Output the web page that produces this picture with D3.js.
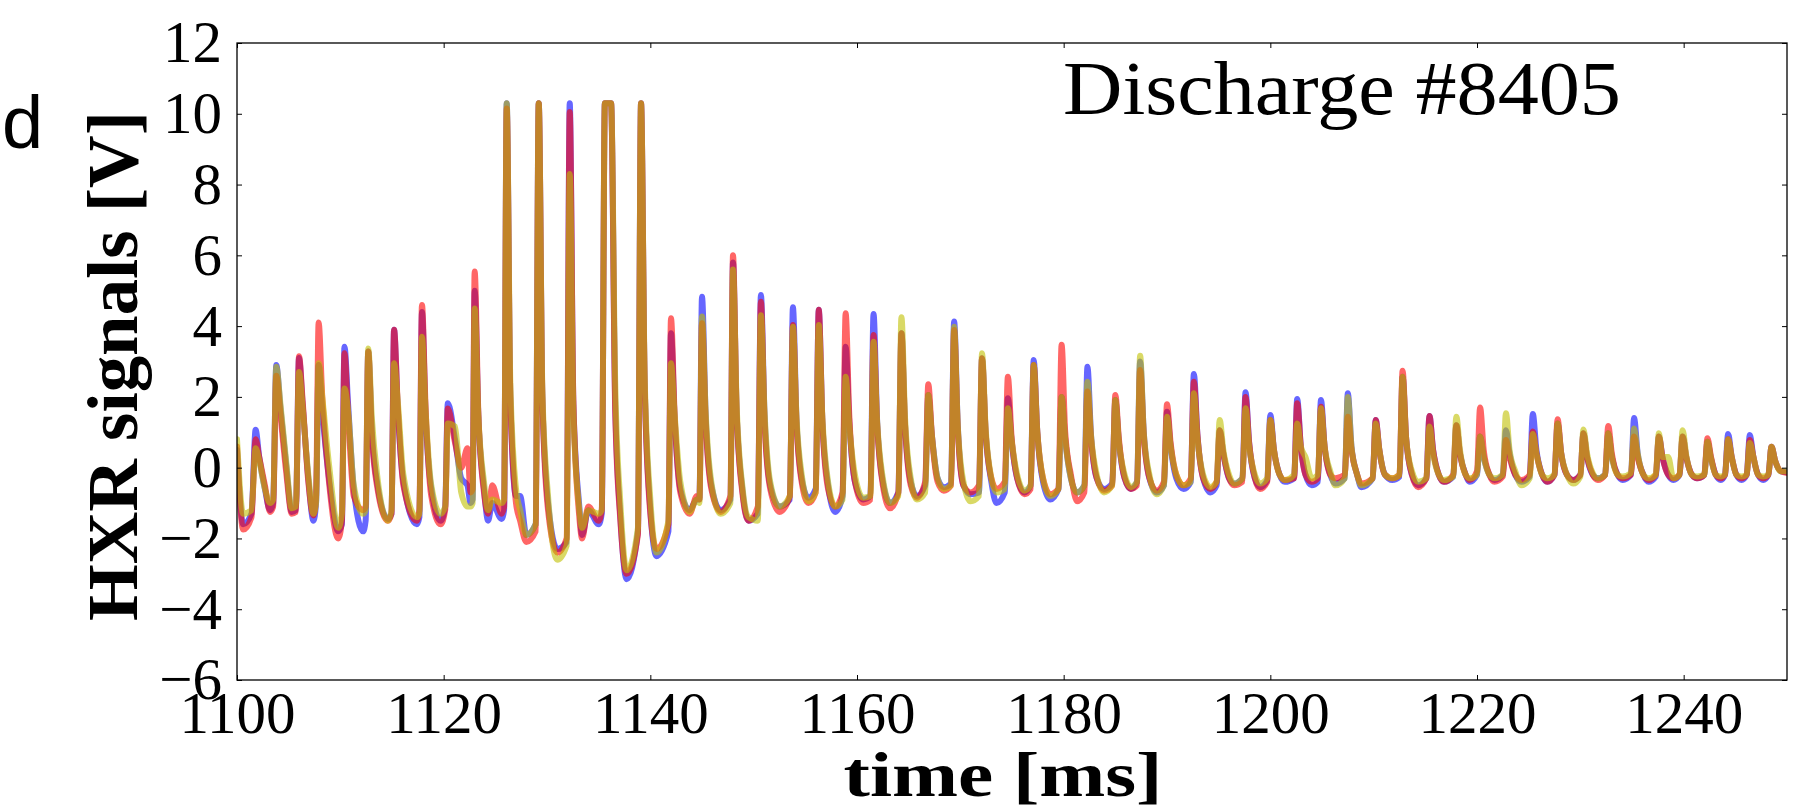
<!DOCTYPE html>
<html>
<head>
<meta charset="utf-8">
<script src="https://cdn.jsdelivr.net/npm/d3@7"></script>
<style>
  html, body { margin: 0; padding: 0; background: #ffffff; }
  svg { display: block; }
</style>
</head>
<body>
<svg id="chart" width="1800" height="810"></svg>
<script>
// ---------------- data ----------------
const xTicks = [1100, 1120, 1140, 1160, 1180, 1200, 1220, 1240];
const yTicks = [-6, -4, -2, 0, 2, 4, 6, 8, 10, 12];
const xDomain = [1100, 1250];
const yDomain = [-6, 12];
const seriesNames = ["blue", "red", "yellow"];
const seriesColors = ["#0000ff", "#ff0000", "#bfbf00"];

// shared sample times (ms)
const times = [
  1100.0, 1100.6,
  1101.4, 1101.8, 1102.15, 1102.7, 1103.2,
  1103.5, 1103.8, 1104.2, 1104.75, 1105.3,
  1105.7, 1106.0, 1106.35, 1106.9, 1107.4,
  1107.65, 1107.9, 1108.25, 1108.9, 1109.8,
  1110.15, 1110.4, 1110.75, 1111.3, 1112.2,
  1112.45, 1112.7, 1113.05, 1113.6, 1114.6,
  1114.95, 1115.2, 1115.55, 1116.1, 1117.4,
  1117.65, 1117.9, 1118.25, 1118.8, 1119.7,
  1120.15, 1120.4, 1121.1, 1121.7, 1122.3, 1122.6,
  1122.8, 1123.0, 1123.35, 1123.9, 1124.3, 1124.7, 1125.6,
  1125.85, 1126.1, 1126.45, 1127.0, 1127.4, 1128.0, 1128.9,
  1129.2, 1129.55, 1130.1, 1131.0, 1131.9,
  1132.2, 1132.55, 1133.1, 1133.4, 1134.0, 1135.0,
  1135.3, 1135.6, 1135.9, 1136.2, 1136.6, 1137.1, 1137.7, 1138.8,
  1139.1, 1139.45, 1140.0, 1140.6, 1141.75,
  1142.0, 1142.35, 1142.9, 1143.8, 1144.5,
  1144.75, 1145.0, 1145.35, 1145.9, 1146.8,
  1147.75, 1148.0, 1148.35, 1148.9, 1149.5, 1150.4,
  1150.7, 1151.05, 1151.6, 1152.5, 1153.5,
  1153.8, 1154.15, 1154.7, 1155.3, 1156.0,
  1156.3, 1156.65, 1157.2, 1157.9, 1158.6,
  1158.9, 1159.25, 1159.8, 1160.6, 1161.3,
  1161.6, 1161.95, 1162.5, 1163.2, 1164.0,
  1164.3, 1164.65, 1165.2, 1165.8, 1166.6,
  1166.9, 1167.25, 1167.8, 1168.4, 1169.1,
  1169.4, 1169.75, 1170.3, 1171.0, 1171.8,
  1172.1, 1172.45, 1173.0, 1173.5, 1174.3,
  1174.6, 1174.95, 1175.5, 1176.2, 1176.8,
  1177.1, 1177.45, 1178.0, 1178.7, 1179.5,
  1179.8, 1180.15, 1180.7, 1181.3, 1182.0,
  1182.3, 1182.65, 1183.2, 1183.9, 1184.7,
  1185.0, 1185.35, 1185.9, 1186.5, 1187.1,
  1187.4, 1187.75, 1188.3, 1189.0, 1189.7,
  1190.0, 1190.35, 1190.9, 1191.6, 1192.3,
  1192.6, 1192.95, 1193.5, 1194.2, 1194.8,
  1195.1, 1195.45, 1196.0, 1196.5, 1197.3,
  1197.6, 1197.95, 1198.5, 1199.0, 1199.7,
  1200.0, 1200.35, 1200.9, 1201.4, 1202.3,
  1202.6, 1202.95, 1203.4, 1204.0, 1204.6,
  1204.9, 1205.25, 1205.8, 1206.3, 1207.2,
  1207.5, 1207.85, 1208.4, 1208.8, 1209.9,
  1210.2, 1210.55, 1211.1, 1211.8, 1212.5,
  1212.8, 1213.15, 1213.7, 1214.3, 1215.1,
  1215.4, 1215.75, 1216.3, 1216.8, 1217.7,
  1218.0, 1218.35, 1218.9, 1219.3, 1220.0,
  1220.3, 1220.65, 1221.2, 1221.7, 1222.5,
  1222.8, 1223.15, 1223.7, 1224.3, 1225.1,
  1225.4, 1225.75, 1226.3, 1226.8, 1227.5,
  1227.8, 1228.15, 1228.7, 1229.3, 1230.0,
  1230.3, 1230.65, 1231.2, 1231.7, 1232.4,
  1232.7, 1233.05, 1233.6, 1234.1, 1234.9,
  1235.2, 1235.55, 1236.1, 1236.6, 1237.3,
  1237.6, 1237.95, 1238.5, 1239.0, 1239.6,
  1239.9, 1240.25, 1240.8, 1241.3, 1242.0,
  1242.3, 1242.65, 1243.1, 1243.6, 1244.0,
  1244.3, 1244.65, 1245.1, 1245.6, 1246.1,
  1246.4, 1246.75, 1247.2, 1247.7, 1248.2,
  1248.5, 1248.85, 1249.4, 1250.0
];

const blueValues = [
  0.5, -1.6,
  -1.3, 1.07, 0.3, -0.6, -1.2,
  -1.0, 2.9, 1.7, 0.1, -1.25,
  -1.2, 3.1, 1.8, -0.3, -1.5,
  -1.0, 2.9, 1.6, -0.3, -1.8,
  -1.6, 3.42, 1.8, -0.6, -1.8,
  -1.5, 3.28, 1.0, -0.5, -1.45,
  -1.3, 3.9, 1.7, -0.4, -1.6,
  -1.4, 4.4, 1.5, -0.6, -1.5,
  -1.1, 1.82, 0.8, -0.3, -0.5, -1.0,
  -0.9, 5.0, 1.5, -0.6, -1.5, -1.0, -1.45,
  -1.2, 10.3, 2.0, -0.8, -0.8, -1.9, -1.6,
  10.3, 2.0, -1.0, -2.3, -2.1,
  10.3, 1.8, -1.0, -1.9, -1.2, -1.6,
  -1.3, 10.3, 10.3, 10.3, 1.8, -1.4, -3.15, -1.8,
  10.3, 2.4, -1.2, -2.5, -1.8,
  3.8, 1.4, -0.6, -1.2, -0.9,
  -0.9, 4.83, 1.5, -0.5, -1.2,
  -0.9, 5.8, 1.6, -0.6, -1.5, -1.3,
  4.88, 1.5, -0.5, -1.1, -0.9,
  4.53, 1.3, -0.4, -0.85, -0.6,
  4.46, 1.3, -0.5, -1.25, -0.8,
  3.42, 1.3, -0.4, -0.9, -0.8,
  4.34, 1.3, -0.4, -1.0, -0.7,
  3.8, 1.2, -0.4, -0.8, -0.5,
  2.05, 0.9, -0.3, -0.55, -0.45,
  4.13, 1.2, -0.5, -0.75, -0.7,
  3.09, 1.0, -0.4, -1.0, -0.7,
  1.96, 0.8, -0.3, -0.7, -0.5,
  3.04, 1.0, -0.4, -0.9, -0.6,
  2.0, 0.8, -0.3, -0.7, -0.5,
  2.85, 0.9, -0.3, -0.6, -0.45,
  1.91, 0.7, -0.3, -0.6, -0.4,
  3.0, 1.0, -0.3, -0.7, -0.5,
  1.58, 0.6, -0.3, -0.6, -0.4,
  2.65, 0.9, -0.3, -0.7, -0.5,
  1.06, 0.4, -0.3, -0.45, -0.3,
  2.13, 0.7, -0.3, -0.55, -0.35,
  1.49, 0.5, -0.2, -0.4, -0.3,
  1.94, 0.6, -0.2, -0.5, -0.4,
  1.91, 0.6, -0.2, -0.45, -0.3,
  2.1, 0.6, -0.2, -0.55, -0.3,
  1.35, 0.5, -0.2, -0.35, -0.25,
  2.57, 0.8, -0.2, -0.5, -0.3,
  1.46, 0.5, -0.2, -0.4, -0.25,
  1.2, 0.4, -0.2, -0.4, -0.2,
  0.88, 0.3, -0.2, -0.35, -0.2,
  1.06, 0.4, -0.2, -0.4, -0.25,
  1.52, 0.5, -0.2, -0.4, -0.2,
  1.25, 0.4, -0.2, -0.35, -0.2,
  0.97, 0.3, -0.2, -0.3, -0.2,
  0.97, 0.3, -0.2, -0.35, -0.2,
  1.4, 0.4, -0.2, -0.4, -0.25,
  0.88, 0.3, -0.2, -0.35, -0.2,
  0.88, 0.3, -0.2, -0.3, -0.2,
  0.73, 0.25, -0.2, -0.35, -0.2,
  0.95, 0.3, -0.2, -0.35, -0.2,
  0.92, 0.3, -0.2, -0.35, -0.2,
  0.59, 0.2, -0.1, -0.12
];

const redValues = [
  0.6, -1.75,
  -1.4, 0.8, 0.3, -0.5, -1.25,
  -1.1, 2.6, 1.5, -0.1, -1.3,
  -1.25, 3.15, 1.9, -0.4, -1.35,
  -0.8, 4.1, 2.0, -0.4, -2.0,
  -1.5, 3.23, 1.5, -0.8, -1.2,
  -1.1, 3.28, 0.9, -0.6, -1.5,
  -1.3, 3.9, 1.8, -0.5, -1.5,
  -1.2, 4.6, 1.7, -0.8, -1.6,
  -1.2, 1.67, 0.7, 0.0, 0.55, -0.7,
  -0.6, 5.54, 1.6, -0.7, -1.3, -0.5, -1.3,
  -1.1, 10.15, 2.0, -1.0, -1.5, -2.1, -1.8,
  10.3, 2.0, -1.2, -2.4, -2.0,
  10.05, 1.9, -1.3, -2.0, -1.1, -1.5,
  -1.2, 10.3, 10.3, 10.3, 1.6, -1.5, -3.0, -1.9,
  10.3, 2.4, -1.3, -2.3, -1.6,
  4.22, 1.5, -0.7, -1.3, -0.8,
  -0.9, 4.08, 1.3, -0.6, -1.25,
  -0.8, 6.0, 1.6, -0.7, -1.5, -1.1,
  4.69, 1.3, -0.6, -1.25, -0.8,
  4.03, 1.2, -0.5, -1.0, -0.7,
  4.46, 1.3, -0.6, -1.1, -0.7,
  4.36, 1.5, -0.4, -1.0, -0.9,
  3.75, 1.2, -0.5, -1.15, -0.7,
  3.8, 1.2, -0.5, -0.85, -0.4,
  2.36, 0.9, -0.4, -0.65, -0.5,
  3.89, 1.1, -0.5, -0.7, -0.5,
  3.09, 1.0, -0.3, -0.6, -0.4,
  2.57, 0.9, -0.3, -0.75, -0.6,
  2.9, 1.0, -0.3, -0.75, -0.6,
  3.47, 1.0, -0.2, -0.95, -0.7,
  2.15, 0.8, -0.3, -0.65, -0.5,
  2.05, 0.8, -0.3, -0.6, -0.5,
  2.76, 0.9, -0.3, -0.65, -0.4,
  1.79, 0.7, -0.2, -0.5, -0.3,
  2.43, 0.9, -0.3, -0.6, -0.4,
  1.06, 0.4, -0.3, -0.5, -0.4,
  2.0, 0.7, -0.3, -0.6, -0.4,
  1.35, 0.5, -0.2, -0.35, -0.3,
  1.82, 0.6, -0.2, -0.4, -0.3,
  1.72, 0.6, -0.2, -0.3, -0.2,
  1.44, 0.5, -0.2, -0.45, -0.3,
  1.35, 0.5, -0.2, -0.3, -0.2,
  2.74, 0.8, -0.2, -0.55, -0.3,
  1.46, 0.5, -0.2, -0.4, -0.2,
  1.2, 0.4, -0.2, -0.35, -0.1,
  1.7, 0.5, -0.2, -0.4, -0.25,
  0.78, 0.3, -0.2, -0.35, -0.2,
  1.02, 0.4, -0.2, -0.4, -0.2,
  1.37, 0.4, -0.2, -0.35, -0.2,
  0.97, 0.3, -0.2, -0.35, -0.2,
  1.18, 0.4, -0.2, -0.3, -0.2,
  0.88, 0.3, -0.2, -0.35, -0.2,
  0.88, 0.3, -0.2, -0.3, -0.2,
  0.88, 0.3, -0.2, -0.3, -0.2,
  0.83, 0.3, -0.2, -0.3, -0.2,
  0.8, 0.3, -0.2, -0.3, -0.2,
  0.78, 0.3, -0.2, -0.3, -0.2,
  0.59, 0.2, -0.1, -0.15
];

const yellowValues = [
  0.8, -1.3,
  -1.2, 0.55, 0.2, -0.6, -1.0,
  -0.9, 2.85, 1.8, 0.2, -1.15,
  -1.1, 2.7, 1.7, -0.2, -1.3,
  -1.0, 2.95, 2.0, 0.1, -1.7,
  -1.3, 2.24, 1.6, -0.5, -1.3,
  -1.2, 3.37, 1.4, -0.3, -1.5,
  -1.2, 2.95, 1.9, -0.2, -1.4,
  -1.3, 3.7, 1.6, -0.5, -1.3,
  -1.1, 1.25, 1.16, -0.7, -1.1, -1.1,
  -1.0, 4.5, 1.5, -0.4, -1.2, -0.9, -1.0,
  -0.9, 10.3, 2.4, -0.6, -1.2, -1.9, -1.6,
  10.3, 2.2, -0.8, -2.6, -2.2,
  8.3, 1.6, -1.1, -1.7, -1.2, -1.3,
  -1.2, 10.3, 10.3, 10.3, 2.4, -1.0, -2.9, -1.7,
  10.3, 2.6, -0.9, -2.4, -1.5,
  2.95, 1.5, -0.4, -1.25, -0.9,
  -1.0, 4.27, 1.6, -0.4, -1.3,
  -1.0, 5.6, 1.8, -0.5, -1.4, -1.5,
  4.31, 1.6, -0.4, -1.1, -0.8,
  3.98, 1.4, -0.3, -0.95, -0.7,
  4.03, 1.4, -0.4, -1.1, -0.9,
  2.57, 1.2, -0.2, -0.85, -0.8,
  3.56, 1.3, -0.3, -1.0, -0.8,
  4.25, 1.4, -0.3, -0.9, -0.7,
  2.05, 0.9, -0.3, -0.6, -0.5,
  3.98, 1.2, -0.4, -0.95, -0.8,
  3.23, 1.1, -0.3, -0.7, -0.6,
  1.68, 0.8, -0.2, -0.65, -0.5,
  2.9, 1.0, -0.3, -0.8, -0.6,
  2.0, 0.8, -0.3, -0.7, -0.5,
  2.43, 0.9, -0.2, -0.7, -0.5,
  1.91, 0.7, -0.2, -0.55, -0.4,
  3.16, 1.0, -0.2, -0.75, -0.5,
  1.44, 0.6, -0.2, -0.5, -0.4,
  2.1, 0.8, -0.2, -0.55, -0.4,
  1.35, 0.5, -0.2, -0.45, -0.3,
  1.68, 0.6, -0.2, -0.45, -0.3,
  1.35, 0.5, -0.2, -0.35, -0.2,
  1.25, 0.6, 0.3, -0.3, -0.2,
  1.68, 0.6, -0.1, -0.5, -0.3,
  2.0, 0.6, -0.2, -0.5, -0.3,
  1.25, 0.5, -0.2, -0.3, -0.2,
  2.57, 0.8, -0.1, -0.4, -0.3,
  1.16, 0.4, -0.2, -0.35, -0.25,
  1.44, 0.5, -0.2, -0.3, -0.2,
  0.88, 0.3, -0.2, -0.3, -0.2,
  1.54, 0.5, -0.1, -0.5, -0.3,
  0.95, 0.4, -0.2, -0.3, -0.2,
  1.25, 0.4, -0.2, -0.45, -0.25,
  1.08, 0.4, -0.15, -0.3, -0.2,
  0.97, 0.3, -0.2, -0.25, -0.15,
  1.11, 0.4, -0.2, -0.3, -0.2,
  0.97, 0.3, 0.3, -0.3, -0.2,
  1.06, 0.35, -0.2, -0.25, -0.2,
  0.73, 0.25, -0.2, -0.25, -0.2,
  0.8, 0.3, -0.2, -0.25, -0.2,
  0.7, 0.3, -0.2, -0.25, -0.2,
  0.59, 0.2, -0.1, -0.1
];

const titleText = "Discharge #8405";
const panelLetter = "d";
const xLabel = "time [ms]";
const yLabel = "HXR signals [V]";

// ---------------- drawing ----------------
const W = 1800, H = 810;
const m = { left: 237, right: 1787, top: 43, bottom: 680 };
const svg = d3.select("#chart");
svg.append("rect").attr("width", W).attr("height", H).attr("fill", "#fff");

const x = d3.scaleLinear().domain(xDomain).range([m.left, m.right]);
const y = d3.scaleLinear().domain(yDomain).range([m.bottom, m.top]);

const serif = "'Liberation Serif', 'Times New Roman', serif";
const tickFont = 59;

svg.append("defs").append("clipPath").attr("id", "plotclip")
  .append("rect").attr("x", m.left).attr("y", m.top)
  .attr("width", m.right - m.left).attr("height", m.bottom - m.top);

const allValues = [blueValues, redValues, yellowValues];
const line = d3.line()
  .x(d => x(d[0]))
  .y(d => y(d[1]))
  .curve(d3.curveMonotoneX);

const lines = svg.append("g").attr("clip-path", "url(#plotclip)");
allValues.forEach((vals, i) => {
  const pts = times.map((t, k) => [t, vals[k]]);
  lines.append("path")
    .datum(pts)
    .attr("class", "series-" + seriesNames[i])
    .attr("fill", "none")
    .attr("stroke", seriesColors[i])
    .attr("stroke-opacity", 0.6)
    .attr("stroke-width", 6)
    .attr("stroke-linejoin", "round")
    .attr("stroke-linecap", "round")
    .attr("d", line);
});

// axes (ticks inward, matplotlib style)
function styleAxis(g) {
  g.select(".domain").remove();
  g.selectAll(".tick line").attr("stroke", "#000").attr("stroke-width", 1);
  g.selectAll(".tick text")
    .attr("fill", "#000")
    .style("font-family", serif)
    .style("font-size", tickFont + "px");
}

svg.append("g")
  .attr("transform", `translate(0,${m.bottom})`)
  .call(d3.axisBottom(x).tickValues(xTicks).tickFormat(d3.format("d"))
        .tickSizeInner(-5).tickSizeOuter(0).tickPadding(11))
  .call(styleAxis);

svg.append("g")
  .attr("transform", `translate(0,${m.top})`)
  .call(d3.axisTop(x).tickValues(xTicks).tickFormat("")
        .tickSizeInner(-5).tickSizeOuter(0))
  .call(styleAxis);

svg.append("g")
  .attr("transform", `translate(${m.left},0)`)
  .call(d3.axisLeft(y).tickValues(yTicks).tickFormat(d3.format("d"))
        .tickSizeInner(-5).tickSizeOuter(0).tickPadding(15))
  .call(styleAxis);

svg.append("g")
  .attr("transform", `translate(${m.right},0)`)
  .call(d3.axisRight(y).tickValues(yTicks).tickFormat("")
        .tickSizeInner(-5).tickSizeOuter(0))
  .call(styleAxis);

// frame
svg.append("rect")
  .attr("x", m.left).attr("y", m.top)
  .attr("width", m.right - m.left).attr("height", m.bottom - m.top)
  .attr("fill", "none").attr("stroke", "#000").attr("stroke-width", 1.3);

// annotation
svg.append("text")
  .attr("x", 1063).attr("y", 114)
  .attr("textLength", 558).attr("lengthAdjust", "spacingAndGlyphs")
  .style("font-family", serif).style("font-size", "76px")
  .attr("fill", "#000")
  .text(titleText);

// panel letter
svg.append("text")
  .attr("x", 2).attr("y", 148)
  .style("font-family", "'Liberation Sans', Arial, sans-serif")
  .style("font-size", "74px")
  .attr("fill", "#000")
  .text(panelLetter);

// x label
svg.append("text")
  .attr("x", 1003).attr("y", 796)
  .attr("text-anchor", "middle")
  .attr("textLength", 319).attr("lengthAdjust", "spacingAndGlyphs")
  .style("font-family", serif).style("font-size", "64px").style("font-weight", "bold")
  .attr("fill", "#000")
  .text(xLabel);

// y label
svg.append("text")
  .attr("transform", "translate(137,366) rotate(-90)")
  .attr("text-anchor", "middle")
  .attr("textLength", 510).attr("lengthAdjust", "spacingAndGlyphs")
  .style("font-family", serif).style("font-size", "72px").style("font-weight", "bold")
  .attr("fill", "#000")
  .text(yLabel);
</script>
</body>
</html>
